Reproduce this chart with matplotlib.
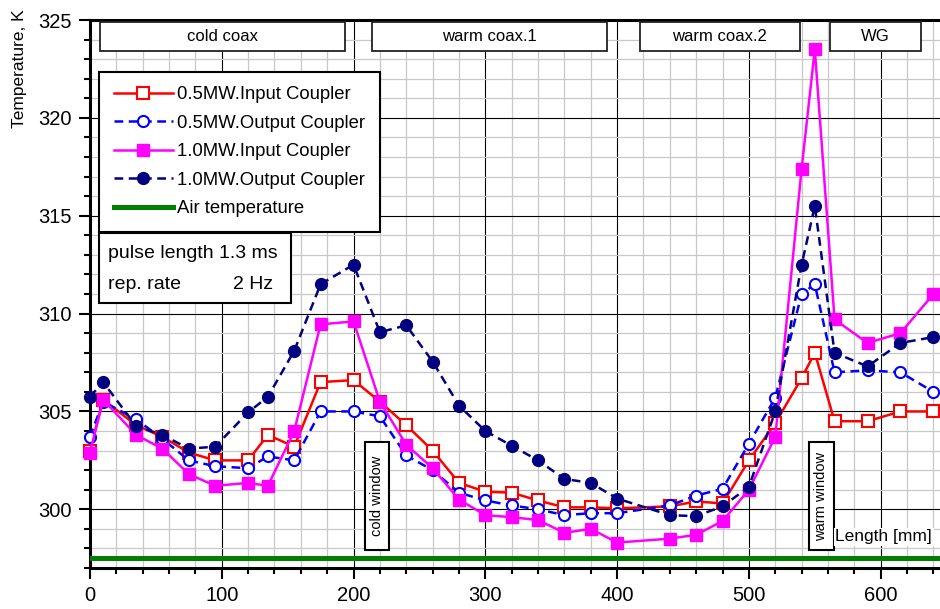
import matplotlib.pyplot as plt
import matplotlib.ticker as ticker
from matplotlib.patches import Rectangle

plt.rcParams['font.family'] = ['Liberation Sans', 'DejaVu Sans']

# positions along the coupler, mm
length = [0, 10, 35, 55, 75, 95, 120, 135, 155, 175, 200,
          220, 240, 260, 280, 300, 320, 340, 360, 380, 400,
          440, 460, 480, 500, 520, 540, 550, 565, 590, 615, 640]

# temperatures, K
in_05 = [303.0, 305.6, 304.3, 303.7, 302.9, 302.5, 302.5, 303.8, 303.2, 306.5, 306.6,
         305.5, 304.3, 303.0, 301.35, 300.9, 300.85, 300.45, 300.1, 300.1, 300.05,
         300.15, 300.4, 300.3, 302.5, 304.4, 306.7, 308.0, 304.5, 304.5, 305.0, 305.0]
out_05 = [303.7, 305.5, 304.6, 303.6, 302.5, 302.2, 302.1, 302.7, 302.5, 305.0, 305.0,
          304.75, 302.75, 302.0, 300.85, 300.45, 300.2, 300.0, 299.7, 299.8, 299.8,
          300.2, 300.7, 301.05, 303.35, 305.7, 311.0, 311.5, 307.0, 307.1, 307.0, 306.0]
in_10 = [302.9, 305.6, 303.8, 303.1, 301.8, 301.2, 301.35, 301.2, 304.0, 309.45, 309.6,
         305.5, 303.3, 302.1, 300.5, 299.7, 299.6, 299.45, 298.8, 299.0, 298.3,
         298.5, 298.7, 299.4, 301.0, 303.7, 317.4, 323.5, 309.7, 308.5, 309.0, 311.0]
out_10 = [305.75, 306.5, 304.25, 303.8, 303.1, 303.2, 304.95, 305.75, 308.1, 311.5, 312.5,
          309.05, 309.4, 307.55, 305.3, 304.0, 303.25, 302.5, 301.55, 301.35, 300.55,
          299.7, 299.65, 300.15, 301.15, 305.0, 312.5, 315.5, 308.0, 307.3, 308.5, 308.8]
air_x = [0, 645]
air_t = [297.5, 297.5]

sections = ["cold coax", "warm coax.1", "warm coax.2", "WG"]

fig = plt.figure(figsize=(9.4, 6.09), dpi=100)
ax = fig.add_axes([0.0957, 0.0673, 0.9043, 0.8998])

ax.plot(length, in_05, color='#ff0000', lw=1.8, marker='s', ms=8.5, mfc='white',
        mec='#ff0000', mew=1.5, label='0.5MW.Input Coupler', clip_on=False, zorder=3)
ax.plot(length, out_05, color='#0000ff', lw=1.8, ls=(0, (3.5, 2.2)), marker='o', ms=8,
        mfc='white', mec='#0000ff', mew=1.5, label='0.5MW.Output Coupler', clip_on=False, zorder=3)
ax.plot(length, in_10, color='#ff00ff', lw=1.8, marker='s', ms=8.5,
        label='1.0MW.Input Coupler', clip_on=False, zorder=3)
ax.plot(length, out_10, color='#000080', lw=1.8, ls=(0, (3.5, 2.2)), marker='o', ms=8.5,
        label='1.0MW.Output Coupler', clip_on=False, zorder=3)
ax.plot(air_x, air_t, color='#008000', lw=3.6, label='Air temperature', zorder=3)

ax.set_xlim(0, 645)
ax.set_ylim(297, 325)
ax.xaxis.set_major_locator(ticker.MultipleLocator(100))
ax.xaxis.set_minor_locator(ticker.MultipleLocator(20))
ax.yaxis.set_major_locator(ticker.MultipleLocator(5))
ax.yaxis.set_minor_locator(ticker.MultipleLocator(1))
ax.grid(which='minor', color='#c8c8c8', lw=0.9, zorder=0)
ax.grid(which='major', color='black', lw=0.8, zorder=1)
ax.set_axisbelow(True)
ax.tick_params(which='major', length=8, width=1.5, labelsize=14.5, pad=5)
ax.tick_params(which='minor', length=4.5, width=1.5)
for s in ['left', 'bottom', 'top']:
    ax.spines[s].set_linewidth(2.2)
ax.spines['right'].set_visible(False)

fig.text(0.021, 0.985, "Temperature, K", rotation=90, ha='center', va='top', fontsize=12.5)

leg = ax.legend(loc='upper left', bbox_to_anchor=(0.0106, 0.906), borderaxespad=0,
                fontsize=13.3, handlelength=3.2, handletextpad=0.25, labelspacing=0.62,
                borderpad=0.8, fancybox=False, framealpha=1, edgecolor='black')
leg.get_frame().set_linewidth(1.5)

tr = ax.transAxes
# section boxes along the top
for name, x0, x1 in zip(sections, [0.0118, 0.3318, 0.647, 0.8706], [0.3, 0.6082, 0.835, 0.9776]):
    ax.add_patch(Rectangle((x0, 0.9434), x1 - x0, 0.053, transform=tr, fc='white',
                           ec='#222222', lw=1.3, zorder=5))
    ax.text((x0 + x1) / 2, 0.97, name, transform=tr, ha='center', va='center',
            fontsize=12, zorder=6)

# pulse parameters
ax.add_patch(Rectangle((0.0106, 0.4836), 0.2259, 0.1277, transform=tr, fc='white',
                       ec='black', lw=1.5, zorder=5))
ax.text(0.0212, 0.5748, "pulse length 1.3 ms", transform=tr, va='center', fontsize=14, zorder=6)
ax.text(0.0212, 0.5182, "rep. rate", transform=tr, va='center', fontsize=14, zorder=6)
ax.text(0.2153, 0.5182, "2 Hz", transform=tr, va='center', ha='right', fontsize=14, zorder=6)

# window markers
for name, x0, x1 in [("cold window", 0.3235, 0.3518), ("warm window", 0.8459, 0.8753)]:
    ax.add_patch(Rectangle((x0, 0.033), x1 - x0, 0.197, transform=tr, fc='white',
                           ec='black', lw=1.5, zorder=5))
    ax.text((x0 + x1) / 2, 0.1315, name, transform=tr, rotation=90, ha='center',
            va='center', fontsize=10.5, zorder=6)

ax.text(0.877, 0.057, "Length [mm]", transform=tr, va='center', ha='left', fontsize=12.5,
        zorder=6, bbox=dict(fc='white', ec='none', pad=1))

fig.savefig("out.png", dpi=100)
